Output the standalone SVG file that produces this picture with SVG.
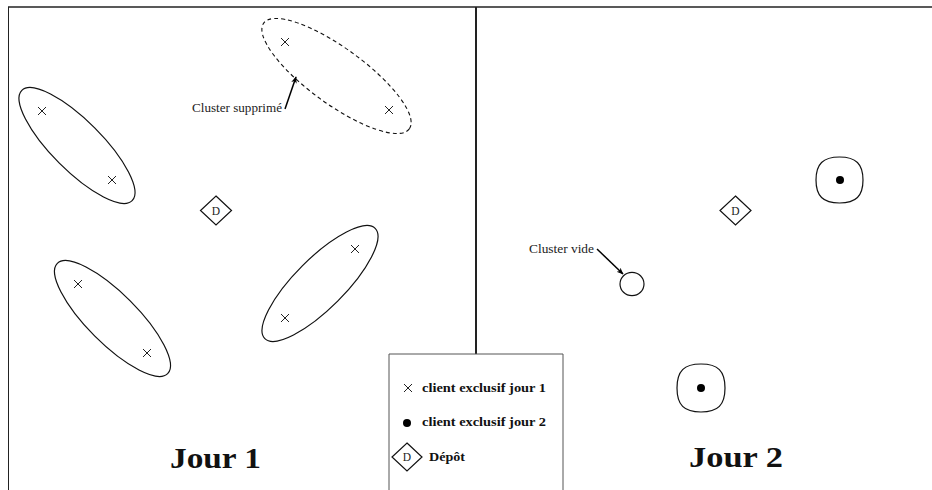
<svg xmlns="http://www.w3.org/2000/svg" width="932" height="490" viewBox="0 0 932 490">
<defs>
<marker id="ah" viewBox="0 0 10 10" refX="9" refY="5" markerWidth="7" markerHeight="7" orient="auto" markerUnits="userSpaceOnUse">
<path d="M0,1 L10,5 L0,9 L3,5 Z" fill="#000"/>
</marker>
<g id="x"><path d="M-4,-4 L4,4 M-4,4 L4,-4" stroke="#222" stroke-width="1" fill="none"/></g>
</defs>
<style>
.frame{stroke:#222;fill:none}
.cl{stroke:#111;stroke-width:1.2;fill:none}
.dash{stroke:#111;stroke-width:1.1;fill:none;stroke-dasharray:4 3}
.dia{stroke:#111;stroke-width:1.2;fill:#fff}
.small{font-family:"Liberation Serif",serif;font-size:11.5px;fill:#222}
.leg{font-family:"Liberation Serif",serif;font-size:11.5px;font-weight:bold;fill:#111}
.big{font-family:"Liberation Serif",serif;font-size:30px;font-weight:bold;fill:#111}
.ptr{stroke:#000;stroke-width:1.5;fill:none}
</style>
<rect width="932" height="490" fill="#fff"/>
<g id="frame">
<line x1="8" y1="7" x2="932" y2="7" class="frame" stroke-width="1.5"/>
<line x1="8.5" y1="7" x2="8.5" y2="490" class="frame" stroke="#555" stroke-width="1"/>
<line x1="476" y1="7" x2="476" y2="354" class="frame" stroke-width="2"/>
</g>
<g id="cluster-a">
<ellipse cx="77" cy="145.5" rx="78" ry="25" transform="rotate(45 77 145.5)" class="cl"/>
<use href="#x" x="42" y="111"/><use href="#x" x="112" y="180"/>
</g>
<g id="cluster-b">
<ellipse cx="112.5" cy="318.5" rx="78" ry="25" transform="rotate(45 112.5 318.5)" class="cl"/>
<use href="#x" x="78" y="284"/><use href="#x" x="147" y="353"/>
</g>
<g id="cluster-c">
<ellipse cx="320" cy="283.5" rx="78" ry="25" transform="rotate(-45 320 283.5)" class="cl"/>
<use href="#x" x="355" y="249"/><use href="#x" x="285" y="318"/>
</g>
<g id="cluster-supprime">
<ellipse cx="336.5" cy="76" rx="90" ry="28" transform="rotate(36 336.5 76)" class="dash"/>
<use href="#x" x="285" y="42"/><use href="#x" x="389" y="110"/>
</g>
<g id="depot-1">
<path d="M216,196 L231.5,210.5 L216,225 L200.5,210.5 Z" class="dia"/>
<text x="216" y="214.5" text-anchor="middle" class="small">D</text>
</g>
<g id="depot-2">
<path d="M735.5,196 L751,210.5 L735.5,225 L720,210.5 Z" class="dia"/>
<text x="735.5" y="214.5" text-anchor="middle" class="small">D</text>
</g>
<g id="cluster-j2-a">
<path d="M863,180 C863,196 856,203 839.5,203 C823,203 816,196 816,180 C816,164 823,157 839.5,157 C856,157 863,164 863,180 Z" class="cl"/>
<circle cx="840" cy="180" r="4" fill="#000"/>
</g>
<g id="cluster-j2-b">
<path d="M725,388 C725,405 718,412 701,412 C684,412 677,405 677,388 C677,371 684,364 701,364 C718,364 725,371 725,388 Z" class="cl"/>
<circle cx="701" cy="388" r="4" fill="#000"/>
</g>
<g id="cluster-vide">
<ellipse cx="632" cy="284" rx="12" ry="11.7" class="cl"/>
</g>
<g id="labels">
<text x="192" y="112" class="small" textLength="90" lengthAdjust="spacingAndGlyphs">Cluster supprimé</text>
<text x="529" y="253" class="small" textLength="65" lengthAdjust="spacingAndGlyphs">Cluster vide</text>
<text x="170" y="468" class="big" textLength="91" lengthAdjust="spacingAndGlyphs">Jour 1</text>
<text x="689" y="467" class="big" textLength="94" lengthAdjust="spacingAndGlyphs">Jour 2</text>
</g>
<g id="connectors">
<line x1="285" y1="109" x2="296" y2="77" class="ptr" marker-end="url(#ah)"/>
<line x1="597" y1="249" x2="623" y2="274" class="ptr" marker-end="url(#ah)"/>
</g>
<g id="legend">
<path d="M389,490 L389,354 L563,354 L563,490" fill="#fff" stroke="#555" stroke-width="1"/>
<use href="#x" x="408" y="388"/>
<text x="422" y="392" class="leg" textLength="124" lengthAdjust="spacingAndGlyphs">client exclusif jour 1</text>
<circle cx="407" cy="423" r="4" fill="#000"/>
<text x="422" y="426" class="leg" textLength="124" lengthAdjust="spacingAndGlyphs">client exclusif jour 2</text>
<path d="M407,443 L422,457 L407,471 L392,457 Z" class="dia"/>
<text x="407" y="461" text-anchor="middle" class="small">D</text>
<text x="429" y="461" class="leg" textLength="36" lengthAdjust="spacingAndGlyphs">Dépôt</text>
</g>
</svg>
